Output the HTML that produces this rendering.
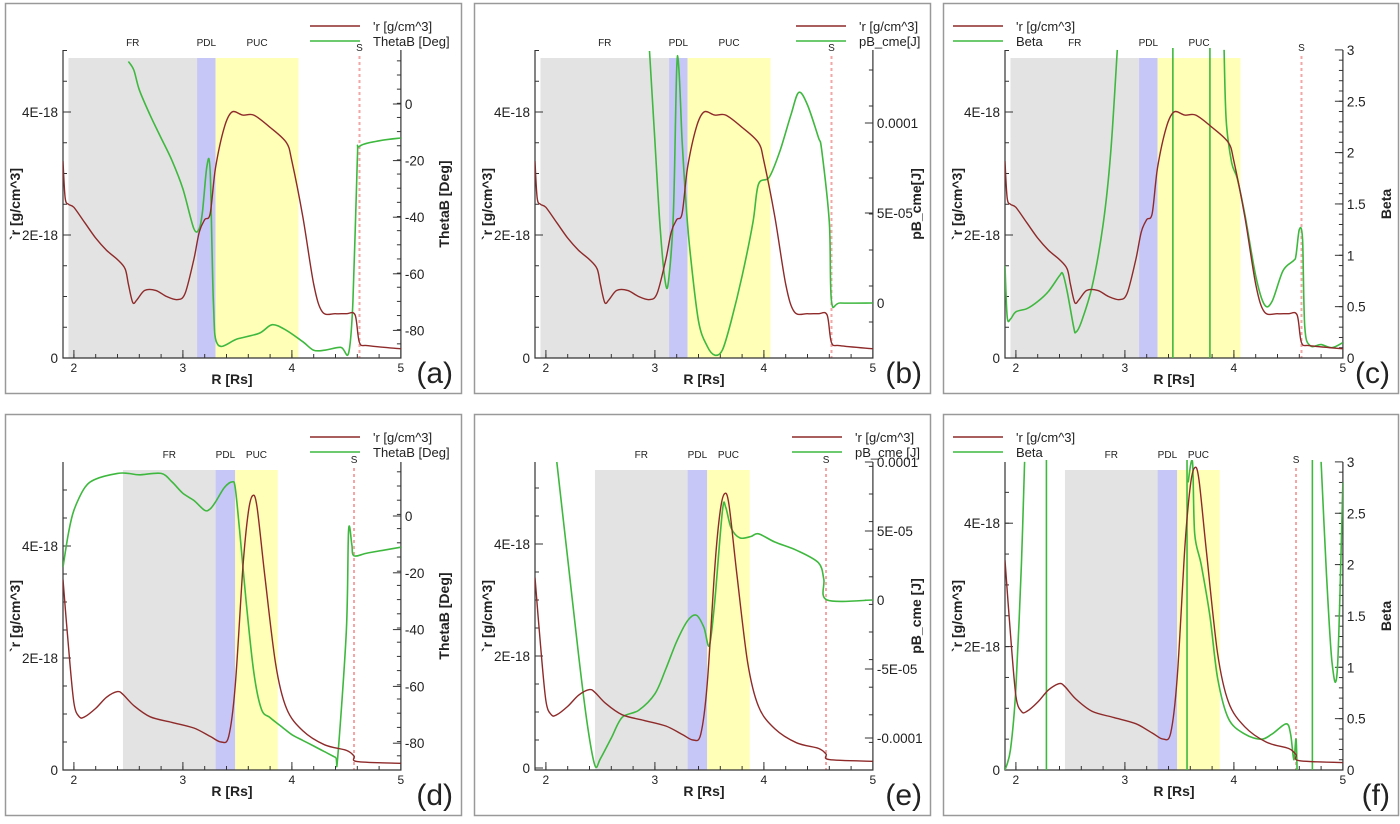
<!DOCTYPE html>
<html><head><meta charset="utf-8"><style>
body{margin:0;background:#fff;width:1400px;height:819px;overflow:hidden}
svg text{font-family:"Liberation Sans",sans-serif;fill:#222}
</style></head><body>
<svg id="fig" width="1400" height="819" viewBox="0 0 1400 819" xmlns="http://www.w3.org/2000/svg"></svg>
<script>
// ---- data ----
const rhoR1 = [1.9,1.92,1.95,2.0,2.1,2.2,2.3,2.4,2.47,2.5,2.54,2.58,2.65,2.75,2.85,2.95,3.02,3.1,3.15,3.2,3.25,3.3,3.38,3.45,3.55,3.65,3.8,3.95,4.0,4.1,4.2,4.28,4.4,4.5,4.58,4.62,4.7,5.0];
const rhoV1 = [3.2,2.6,2.5,2.45,2.2,1.95,1.75,1.6,1.45,1.2,0.9,0.95,1.1,1.1,1.0,0.95,1.05,1.6,2.05,2.25,2.35,3.1,3.75,4.0,3.95,3.95,3.75,3.5,3.2,2.3,1.2,0.75,0.72,0.72,0.7,0.25,0.2,0.15];
const rhoR2 = [1.9,1.95,2.0,2.05,2.1,2.2,2.3,2.4,2.45,2.55,2.7,2.9,3.1,3.25,3.35,3.42,3.48,3.55,3.6,3.64,3.68,3.75,3.85,3.95,4.1,4.3,4.5,4.57,4.6,5.0];
const rhoV2 = [3.4,2.2,1.2,0.95,0.95,1.1,1.3,1.4,1.35,1.15,0.95,0.85,0.75,0.6,0.5,0.6,1.5,3.6,4.6,4.9,4.7,3.5,1.9,1.1,0.7,0.45,0.35,0.25,0.15,0.12];
const thetaR_a = [2.5,2.55,2.6,2.7,2.8,2.9,3.0,3.1,3.15,3.18,3.22,3.25,3.28,3.32,3.5,3.7,3.82,3.95,4.1,4.2,4.3,4.45,4.52,4.56,4.6,4.62,4.8,5.0];
const thetaV_a = [15,12,5,-4,-12,-20,-30,-44,-44,-38,-22,-24,-70,-85,-83,-81,-78,-80,-84,-87,-87,-86,-88,-70,-20,-15,-13,-12];
const pbR_b = [2.95,3.0,3.05,3.1,3.13,3.17,3.2,3.22,3.25,3.28,3.32,3.4,3.48,3.55,3.62,3.7,3.8,3.9,3.95,4.05,4.15,4.25,4.32,4.4,4.5,4.53,4.6,4.62,4.7,5.0];
const pbV_b = [14,9,4,1,1.5,5,13,13,9,6,3,-1,-2.4,-2.9,-2.6,-1,1.5,4.5,6.6,7,8.5,10.5,11.7,11,9.2,8.5,4.5,0.1,0,0];
const betaR_c = [1.9,1.92,1.95,2.0,2.1,2.2,2.3,2.4,2.43,2.47,2.53,2.55,2.6,2.7,2.8,2.87,2.93,null,3.91,3.93,3.98,4.03,4.1,4.2,4.28,4.35,4.45,4.55,4.57,4.6,4.63,4.65,4.7,4.8,4.9,5.0];
const betaV_c = [0.9,0.4,0.38,0.45,0.48,0.55,0.65,0.8,0.82,0.65,0.3,0.25,0.35,0.7,1.3,2.0,3.0,null,3.0,2.3,1.9,1.75,1.4,0.8,0.52,0.55,0.85,0.95,1.0,1.25,1.15,0.3,0.12,0.13,0.1,0.15];
const spikes_c = [3.44,3.78];
const thetaR_d = [1.9,1.95,2.0,2.1,2.2,2.4,2.5,2.6,2.8,2.9,3.0,3.1,3.2,3.25,3.3,3.38,3.45,3.48,3.52,3.58,3.65,3.72,3.8,3.9,4.0,4.1,4.2,4.3,4.4,4.42,4.5,4.52,4.55,4.57,4.7,5.0];
const thetaV_d = [-18,-6,2,10,13,15,15,14.5,15,12,8,5.5,2,2.5,5,10,12,10,-5,-30,-55,-68,-71,-74,-77,-79,-81,-83,-85,-85,-40,-5,-10,-14,-13,-11];
const pbR_e = [2.1,2.2,2.3,2.38,2.45,2.5,2.6,2.7,2.85,3.0,3.1,3.2,3.3,3.38,3.45,3.5,3.55,3.62,3.65,3.7,3.78,3.88,3.95,4.1,4.3,4.5,4.55,4.58,5.0];
const pbV_e = [10,3,-4,-9,-12,-11.5,-10,-8.5,-8,-6.8,-5,-3,-1.5,-1.1,-2,-3.3,0,6.5,6.7,5.2,4.5,4.6,4.8,4.2,3.6,2.7,1.5,0,0];
const betaR_f = [1.9,1.95,2.0,2.05,2.08,null,3.58,3.62,3.64,3.7,3.78,3.85,3.95,4.1,4.25,4.35,4.48,4.52,4.55,4.57,4.58,null,4.8,4.85,4.9,4.95,5.0];
const betaV_f = [0,0.2,0.8,2.0,3.0,null,2.8,3.0,2.3,2.0,1.5,0.9,0.5,0.35,0.3,0.35,0.45,0.35,0.1,0.3,0.0,null,3.0,1.9,1.05,1.0,2.8];
const spikes_f = [2.28,3.57,4.72];
const regions1 = [1.95,3.13,3.3,4.06]; const shock1 = 4.62;
const regions2 = [2.45,3.3,3.48,3.87]; const shock2 = 4.57;
const xTicks = [2,3,4,5];
const rhoTicks = [0,2,4]; const rhoTickLabels = ['0','2E-18','4E-18'];
const thetaTicks = [0,-20,-40,-60,-80];
const pbTicks_b = [10,5,0]; const pbLabels_b = ['0.0001','5E-05','0'];
const pbTicks_e = [10,5,0,-5,-10]; const pbLabels_e = ['0.0001','5E-05','0','-5E-05','-0.0001'];
const betaTicks = [0,0.5,1,1.5,2,2.5,3]; const betaLabels = ['0','0.5','1','1.5','2','2.5','3'];

const NS='http://www.w3.org/2000/svg';
const svg=document.getElementById('fig');
function mk(tag,attrs,parent){const e=document.createElementNS(NS,tag);for(const k in attrs)e.setAttribute(k,attrs[k]);(parent||svg).appendChild(e);return e;}
const RED='#8e2a2a', GREEN='#3fb83f';

const panels=[
 {id:'a',ox:0,oy:0,box:[5,3,456,390],rhoR:rhoR1,rhoV:rhoV1,rho0:358,rhoS:61.5,reg:regions1,shock:shock1,sR:thetaR_a,sV:thetaV_a,s0:104,sS:2.83,sTicks:thetaTicks,sLabels:thetaTicks.map(String),sTitle:'ThetaB [Deg]',leg:'ThetaB [Deg]',legX:305},
 {id:'b',ox:472,oy:0,box:[474,3,456,390],rhoR:rhoR1,rhoV:rhoV1,rho0:358,rhoS:61.5,reg:regions1,shock:shock1,sR:pbR_b,sV:pbV_b,s0:303,sS:18,sTicks:pbTicks_b,sLabels:pbLabels_b,sTitle:'pB_cme[J]',leg:'pB_cme[J]',legX:322},
 {id:'c',ox:942,oy:0,box:[943,3,455,390],rhoR:rhoR1,rhoV:rhoV1,rho0:358,rhoS:61.5,reg:regions1,shock:shock1,sR:betaR_c,sV:betaV_c,s0:358,sS:102.7,sTicks:betaTicks,sLabels:betaLabels,sTitle:'Beta',leg:'Beta',legX:10,spikes:spikes_c},
 {id:'d',ox:0,oy:412,box:[5,414,456,401],rhoR:rhoR2,rhoV:rhoV2,rho0:770,rhoS:56,reg:regions2,shock:shock2,sR:thetaR_d,sV:thetaV_d,s0:516,sS:2.84,sTicks:thetaTicks,sLabels:thetaTicks.map(String),sTitle:'ThetaB [Deg]',leg:'ThetaB [Deg]',legX:305},
 {id:'e',ox:472,oy:412,box:[474,414,456,401],rhoR:rhoR2,rhoV:rhoV2,rho0:768,rhoS:56,reg:regions2,shock:shock2,sR:pbR_e,sV:pbV_e,s0:600,sS:13.8,sTicks:pbTicks_e,sLabels:pbLabels_e,sTitle:'pB_cme [J]',leg:'pB_cme [J]',legX:318},
 {id:'f',ox:942,oy:412,box:[943,414,455,401],rhoR:rhoR2,rhoV:rhoV2,rho0:770,rhoS:61.7,reg:regions2,shock:shock2,sR:betaR_f,sV:betaV_f,s0:770,sS:102.7,sTicks:betaTicks,sLabels:betaLabels,sTitle:'Beta',leg:'Beta',legX:10,spikes:spikes_f}
];

function pathFrom(R,V,X,Y){
 // split into segments at nulls, smooth each with Catmull-Rom
 const segs=[];let cur=[];
 for(let i=0;i<R.length;i++){if(R[i]===null){if(cur.length)segs.push(cur);cur=[];continue;}cur.push([X(R[i]),Y(V[i])]);}
 if(cur.length)segs.push(cur);
 let d='';const k=0.16;
 segs.forEach(P=>{
  d+='M'+P[0][0].toFixed(1)+' '+P[0][1].toFixed(1);
  for(let i=0;i<P.length-1;i++){
   const p0=P[Math.max(0,i-1)],p1=P[i],p2=P[i+1],p3=P[Math.min(P.length-1,i+2)];
   const c1=[p1[0]+(p2[0]-p0[0])*k,p1[1]+(p2[1]-p0[1])*k];
   const c2=[p2[0]-(p3[0]-p1[0])*k,p2[1]-(p3[1]-p1[1])*k];
   d+='C'+c1[0].toFixed(1)+' '+c1[1].toFixed(1)+' '+c2[0].toFixed(1)+' '+c2[1].toFixed(1)+' '+p2[0].toFixed(1)+' '+p2[1].toFixed(1);
  }
 });
 return d;}

panels.forEach(p=>{
 const g=mk('g',{});
 
 
 const X=r=>p.ox+63+(r-1.9)*109;
 const left=X(1.9), right=X(5.0);
 const bottom=(p.oy===0?358:770), top=(p.oy===0?50:462);
 const Yr=v=>p.rho0-v*p.rhoS;
 const Ys=v=>p.s0-v*p.sS;
 const bx=mk('rect',{x:p.box[0]+.5,y:p.box[1]+.5,width:p.box[2],height:p.box[3],fill:'#fff',stroke:'#999','stroke-width':1.5},g);
 
 
 const cp=mk('clipPath',{id:'clip'+p.id},g);
 mk('rect',{x:left,y:top-2,width:right-left,height:bottom-top+2},cp);
 const shTop=top+8;
 const cols=['#e3e3e3','#c6c6f7','#ffffb8'], names=['fr-region','pdl-region','puc-region'];
 for(let i=0;i<3;i++){const r=mk('rect',{x:X(p.reg[i]),y:shTop,width:X(p.reg[i+1])-X(p.reg[i]),height:bottom-shTop,fill:cols[i]},g);
  
  }
 const labs=['FR','PDL','PUC'];
 for(let i=0;i<3;i++){const t=mk('text',{x:(X(p.reg[i])+X(p.reg[i+1]))/2,y:top-4,'font-size':10,'text-anchor':'middle'},g);t.textContent=labs[i];
  
  }
 const sl=mk('line',{x1:X(p.shock),x2:X(p.shock),y1:top+6,y2:bottom,stroke:'#f2a6a6','stroke-width':2,'stroke-dasharray':'3 3'},g);
 
 
 const st=mk('text',{x:X(p.shock),y:top+1,'font-size':10,'text-anchor':'middle'},g);st.textContent='S';
 
 
 mk('path',{d:`M${left} ${top}V${bottom}H${right}V${top}`,fill:'none',stroke:'#333','stroke-width':1.2},g);
 xTicks.forEach(v=>{mk('line',{x1:X(v),x2:X(v),y1:bottom,y2:bottom-8,stroke:'#333'},g);
  const t=mk('text',{x:X(v),y:bottom+14,'font-size':12,'text-anchor':'middle',fill:'#444'},g);t.textContent=v;
  
  });
 for(let v=2;v<5;v+=0.2){mk('line',{x1:X(v),x2:X(v),y1:bottom,y2:bottom-4,stroke:'#333'},g);}
 rhoTicks.forEach((v,i)=>{mk('line',{x1:left,x2:left+8,y1:Yr(v),y2:Yr(v),stroke:'#333'},g);
  const t=mk('text',{x:left-5,y:Yr(v)+5,'font-size':13.5,'text-anchor':'end'},g);t.textContent=rhoTickLabels[i];
  
  });
 for(let v=0.5;Yr(v)>top;v+=0.5){mk('line',{x1:left,x2:left+4,y1:Yr(v),y2:Yr(v),stroke:'#333'},g);}
 p.sTicks.forEach((v,i)=>{mk('line',{x1:right,x2:right-8,y1:Ys(v),y2:Ys(v),stroke:'#333'},g);
  const t=mk('text',{x:right+4,y:Ys(v)+5,'font-size':13.5},g);t.textContent=p.sLabels[i];
  
  });
 for(let y=bottom;y>top;y-=(p.sS*(p.sTicks.length>5?0.1:(p.sTitle[0]==='T'?5:2)))){mk('line',{x1:right,x2:right-4,y1:y,y2:y,stroke:'#333'},g);}
 const xt=mk('text',{x:(left+right)/2,y:bottom+26,'font-size':14,'font-weight':'bold','text-anchor':'middle'},g);xt.textContent='R [Rs]';
 
 
 const ym=(top+bottom)/2;
 const yt=mk('text',{x:p.ox+20,y:ym,'font-size':14,'font-weight':'bold','text-anchor':'middle',transform:`rotate(-90 ${p.ox+20} ${ym})`},g);yt.textContent='`r [g/cm^3]';
 
 
 const y2x=right+48;
 const y2=mk('text',{x:y2x,y:ym,'font-size':14,'font-weight':'bold','text-anchor':'middle',transform:`rotate(-90 ${y2x} ${ym})`},g);y2.textContent=p.sTitle;
 
 
 const cg=mk('g',{'clip-path':`url(#clip${p.id})`},g);
 const sp=mk('path',{d:pathFrom(p.sR,p.sV,X,Ys),fill:'none',stroke:GREEN,'stroke-width':1.6},cg);
 
 
 (p.spikes||[]).forEach(r=>{const l=mk('line',{x1:X(r),x2:X(r),y1:Ys(3.2),y2:Ys(0),stroke:GREEN,'stroke-width':1.6},cg);
  
  });
 const rp=mk('path',{d:pathFrom(p.rhoR,p.rhoV,X,Yr),fill:'none',stroke:RED,'stroke-width':1.4},cg);
 
 
 const lx=p.box[0]+p.legX, ly=p.box[1]+23;
 const lg=mk('g',{},g);
 
 
 mk('line',{x1:lx,x2:lx+50,y1:ly,y2:ly,stroke:RED,'stroke-width':1.5},lg);
 mk('line',{x1:lx,x2:lx+50,y1:ly+15,y2:ly+15,stroke:GREEN,'stroke-width':1.5},lg);
 const t1=mk('text',{x:lx+63,y:ly+5,'font-size':13},lg);t1.textContent="'r [g/cm^3]";
 
 
 const t2=mk('text',{x:lx+63,y:ly+20,'font-size':13},lg);t2.textContent=p.leg;
 
 
 const pl=mk('text',{x:p.box[0]+p.box[2]-8,y:p.box[1]+p.box[3]-10,'font-size':30,'text-anchor':'end'},g);pl.textContent='('+p.id+')';
 
 
});
</script>
</body></html>
